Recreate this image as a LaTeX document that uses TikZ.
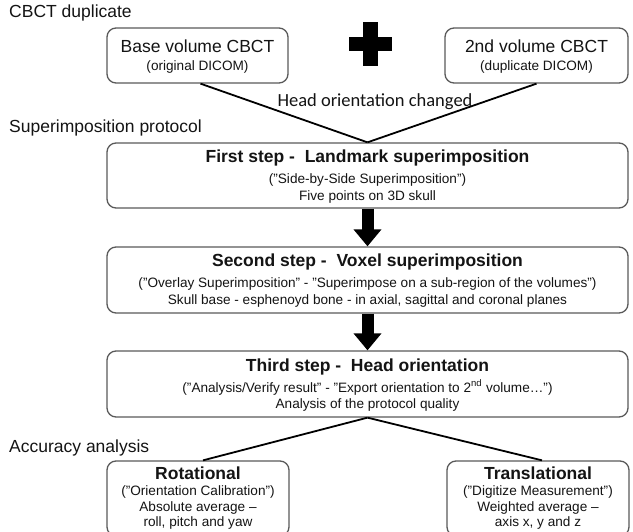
\documentclass[tikz,border=0pt]{standalone}
\usepackage{fontspec}
\setmainfont{Liberation Sans}
\newfontfamily\calfont{Carlito}
\usetikzlibrary{arrows.meta}
\definecolor{boxgray}{HTML}{5A5A5A}
\definecolor{txt}{HTML}{141414}
\begin{document}
\begin{tikzpicture}[x=1pt,y=-1pt,
  box/.style={draw=boxgray, line width=1.3pt, rounded corners=9pt, inner sep=0pt, fill=white},
  ttl/.style={font=\fontsize{17.5}{20}\selectfont\bfseries, anchor=base, inner sep=0pt, text=txt},
  hdr/.style={font=\fontsize{17.5}{20}\selectfont, anchor=base, inner sep=0pt, text=txt},
  sub/.style={font=\fontsize{13.6}{16}\selectfont, anchor=base, inner sep=0pt, text=txt},
  lbl/.style={font=\fontsize{17.5}{20}\selectfont, anchor=base west, inner sep=0pt, text=txt},
  conn/.style={line width=1.8pt, draw=black},
  bigarrow/.style={line width=12pt, draw=black, -{Triangle[width=27pt,length=17pt]}}]
\useasboundingbox (0,0) rectangle (633,532);
\fill[white] (0,0) rectangle (633,532);
\clip (0,0) rectangle (633,532);

% section labels
\node[lbl] (lab1) at (9,18) {CBCT duplicate};
\node[lbl] (lab2) at (9,133) {Superimposition protocol};
\node[lbl] (lab3) at (9,453) {Accuracy analysis};

% top boxes
\node[box, minimum width=181pt, minimum height=55pt] (base) at (197.5,55.5) {};
\node[hdr] (baseT) at (197.5,53) {Base volume CBCT};
\node[sub] (baseS) at (197.5,71) {(original DICOM)};

\node[box, minimum width=183pt, minimum height=55pt] (dup) at (536.5,55.5) {};
\node[hdr] (dupT) at (536.5,53) {2nd volume CBCT};
\node[sub] (dupS) at (536.5,71) {(duplicate DICOM)};

% plus sign
\fill[black] (349,37) rectangle (392,51);
\fill[black] (363,22) rectangle (378,66);

% step boxes
\node[box, minimum width=521pt, minimum height=65pt] (s1) at (367.5,175.5) {};
\node[ttl] (s1T) at (367.5,163) {First step -\ \ Landmark superimposition};
\node[sub] (s1A) at (367.5,184) {("Side-by-Side Superimposition")};
\node[sub] (s1B) at (367.5,201) {Five points on 3D skull};

\node[box, minimum width=521pt, minimum height=66pt] (s2) at (367.5,280) {};
\node[ttl] (s2T) at (367.5,267) {Second step -\ \ Voxel superimposition};
\node[sub] (s2A) at (367.5,288) {("Overlay Superimposition" - "Superimpose on a sub-region of the volumes")};
\node[sub] (s2B) at (367.5,305) {Skull base - esphenoyd bone - in axial, sagittal and coronal planes};

\node[box, minimum width=521pt, minimum height=66pt] (s3) at (367.5,384) {};
\node[ttl] (s3T) at (367.5,371) {Third step -\ \ Head orientation};
\node[sub] (s3A) at (367.5,392) {("Analysis/Verify result" - "Export orientation to 2\textsuperscript{nd} volume\ldots")};
\node[sub] (s3B) at (367.5,409) {Analysis of the protocol quality};

% bottom boxes
\node[box, minimum width=182pt, minimum height=75pt] (rot) at (198,498.5) {};
\node[ttl] (rotT) at (198,479) {Rotational};
\node[sub] (rotA) at (198,495) {("Orientation Calibration")};
\node[sub] (rotB) at (198,511) {Absolute average --};
\node[sub] (rotC) at (198,526) {roll, pitch and yaw};

\node[box, minimum width=182pt, minimum height=75pt] (tra) at (538,498.5) {};
\node[ttl] (traT) at (538,479) {Translational};
\node[sub] (traA) at (538,495) {("Digitize Measurement")};
\node[sub] (traB) at (538,511) {Weighted average --};
\node[sub] (traC) at (538,526) {axis x, y and z};

% connectors
\draw[conn] ([xshift=3pt]base.south) -- (s1.north);
\draw[conn] (dup.south) -- (s1.north);
\node[font=\calfont\fontsize{18.5}{20}\selectfont, anchor=base, inner sep=0pt, text=txt] (chg) at (375,107) {Head orientation changed};

\draw[bigarrow] (s1.south) -- (s2.north);
\draw[bigarrow] (s2.south) -- (s3.north);

\draw[conn] (s3.south) -- ([xshift=5pt]rot.north);
\draw[conn] (s3.south) -- ([xshift=4pt]tra.north);
\end{tikzpicture}
\end{document}
